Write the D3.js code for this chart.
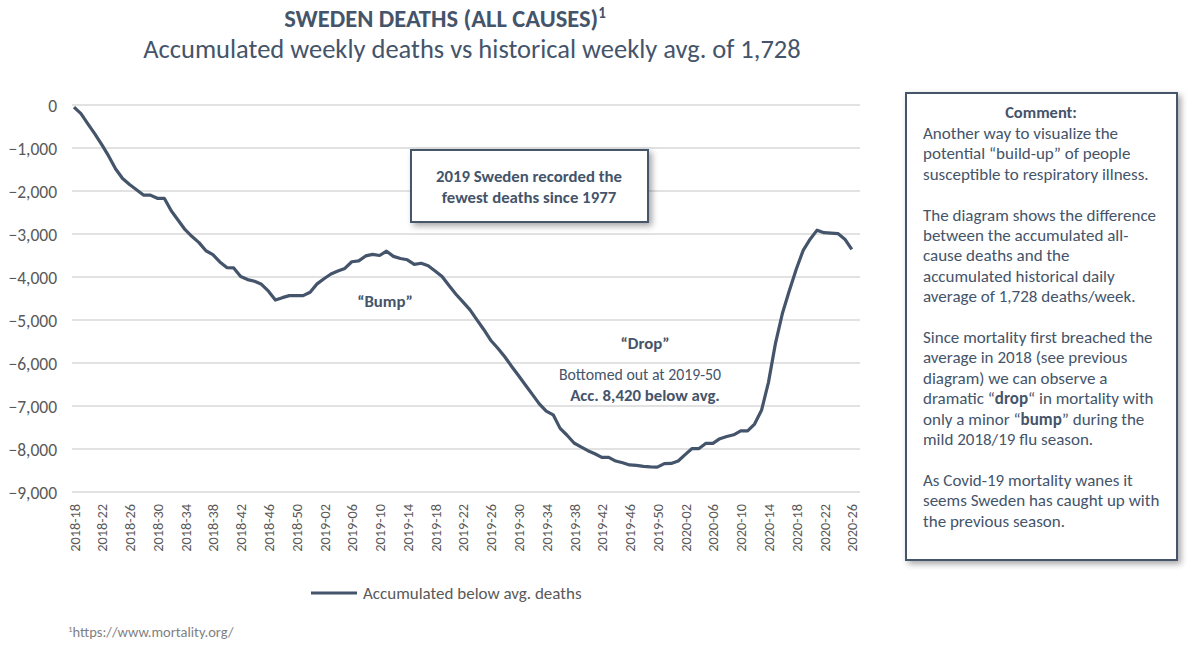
<!DOCTYPE html>
<html><head><meta charset="utf-8">
<script src="https://cdn.jsdelivr.net/npm/d3@7"></script>
<style>
body{margin:0;background:#fff;}
svg{display:block;font-family:Carlito,Calibri,Lato,"Noto Sans",sans-serif;}
</style></head>
<body><svg id="c" width="1200" height="648"></svg>
<script>
const weeks = [
"2018-18","2018-19","2018-20","2018-21","2018-22","2018-23","2018-24","2018-25","2018-26","2018-27","2018-28","2018-29","2018-30","2018-31","2018-32","2018-33","2018-34","2018-35","2018-36","2018-37","2018-38","2018-39","2018-40","2018-41","2018-42","2018-43","2018-44","2018-45","2018-46","2018-47","2018-48","2018-49","2018-50","2018-51","2018-52",
"2019-01","2019-02","2019-03","2019-04","2019-05","2019-06","2019-07","2019-08","2019-09","2019-10","2019-11","2019-12","2019-13","2019-14","2019-15","2019-16","2019-17","2019-18","2019-19","2019-20","2019-21","2019-22","2019-23","2019-24","2019-25","2019-26","2019-27","2019-28","2019-29","2019-30","2019-31","2019-32","2019-33","2019-34","2019-35","2019-36","2019-37","2019-38","2019-39","2019-40","2019-41","2019-42","2019-43","2019-44","2019-45","2019-46","2019-47","2019-48","2019-49","2019-50","2019-51","2019-52",
"2020-01","2020-02","2020-03","2020-04","2020-05","2020-06","2020-07","2020-08","2020-09","2020-10","2020-11","2020-12","2020-13","2020-14","2020-15","2020-16","2020-17","2020-18","2020-19","2020-20","2020-21","2020-22","2020-23","2020-24","2020-25","2020-26"];

const accumulated = [
-50,-200,-440,-670,-920,-1190,-1490,-1710,-1850,-1970,-2095,-2095,-2170,-2170,-2460,-2680,-2900,-3060,-3200,-3390,-3480,-3650,-3780,-3790,-3990,-4060,-4100,-4170,-4330,-4535,-4480,-4434,-4434,-4434,-4355,
-4160,-4040,-3930,-3860,-3800,-3645,-3625,-3510,-3475,-3500,-3400,-3520,-3570,-3600,-3705,-3680,-3740,-3860,-3990,-4200,-4400,-4580,-4760,-4990,-5220,-5470,-5650,-5850,-6075,-6290,-6510,-6730,-6950,-7120,-7205,-7520,-7680,-7860,-7950,-8040,-8110,-8194,-8194,-8280,-8320,-8370,-8380,-8405,-8415,-8420,-8340,-8335,
-8280,-8130,-7990,-7990,-7868,-7868,-7760,-7710,-7670,-7580,-7580,-7420,-7100,-6450,-5550,-4850,-4320,-3820,-3380,-3120,-2910,-2970,-2980,-2990,-3120,-3357];

const yTicks = [0,-1000,-2000,-3000,-4000,-5000,-6000,-7000,-8000,-9000];
const xTickLabels = weeks.filter((w,i)=>i%4===0);

const titleText = "SWEDEN DEATHS (ALL CAUSES)";
const subtitleText = "Accumulated weekly deaths vs historical weekly avg. of 1,728";
const legendLabel = "Accumulated below avg. deaths";
const footnote = "https://www.mortality.org/";
const boxLines = ["2019 Sweden recorded the","fewest deaths since 1977"];
const commentLines = [
 [["Another way to visualize the",0]],
 [["potential “build-up” of people",0]],
 [["susceptible to respiratory illness.",0]],
 [],
 [["The diagram shows the difference",0]],
 [["between the accumulated all-",0]],
 [["cause deaths and the",0]],
 [["accumulated historical daily",0]],
 [["average of 1,728 deaths/week.",0]],
 [],
 [["Since mortality first breached the",0]],
 [["average in 2018 (see previous",0]],
 [["diagram) we can observe a",0]],
 [["dramatic “",0],["drop",1],["“ in mortality with",0]],
 [["only a minor “",0],["bump",1],["” during the",0]],
 [["mild 2018/19 flu season.",0]],
 [],
 [["As Covid-19 mortality wanes it",0]],
 [["seems Sweden has caught up with",0]],
 [["the previous season.",0]]
];

const DARK = "#44546a", GRAY = "#595959";
const svg = d3.select("#c");

const defs = svg.append("defs");
const f = defs.append("filter").attr("id","sh").attr("x","-10%").attr("y","-10%").attr("width","130%").attr("height","130%");
f.append("feDropShadow").attr("dx",3).attr("dy",3).attr("stdDeviation",3).attr("flood-color","#000").attr("flood-opacity",0.35);

const x = d3.scalePoint().domain(weeks).range([74, 851.8]);
const y = d3.scaleLinear().domain([-9000, 0]).range([492, 105]);

// gridlines
svg.append("g").selectAll("line").data(yTicks).join("line")
  .attr("x1",72).attr("x2",860).attr("y1",d=>y(d)).attr("y2",d=>y(d))
  .attr("stroke","#d9d9d9").attr("stroke-width",1.3);

// y axis
const yAxis = d3.axisLeft(y).tickValues(yTicks).tickFormat(d3.format(",")).tickSize(0).tickPadding(0);
const gy = svg.append("g").attr("transform","translate(57,0)").call(yAxis);
gy.select(".domain").remove();
gy.selectAll("text").attr("fill",GRAY).style("font-size","17.5px").attr("dy","0.35em").attr("font-family","Carlito,Calibri,Lato,sans-serif");

// x axis
const xAxis = d3.axisBottom(x).tickValues(xTickLabels).tickSize(0).tickPadding(0);
const gx = svg.append("g").attr("transform","translate(0,500)").call(xAxis);
gx.select(".domain").remove();
gx.selectAll("text").attr("fill",GRAY).style("font-size","14.3px")
  .attr("font-family","Carlito,Calibri,Lato,sans-serif")
  .attr("transform","rotate(-90)").attr("text-anchor","end").attr("x",-4).attr("y",0).attr("dy","0.35em");

// line
const line = d3.line().x((d,i)=>x(weeks[i])).y(d=>y(d));
svg.append("path").datum(accumulated).attr("d",line).attr("fill","none")
  .attr("stroke",DARK).attr("stroke-width",3.2).attr("stroke-linejoin","round");

// title
const t = svg.append("text").attr("x",445).attr("y",27).attr("text-anchor","middle")
  .attr("fill",DARK).attr("font-weight","bold").style("font-size","24.5px");
t.append("tspan").text(titleText);
t.append("tspan").text("1").attr("dy",-9).style("font-size","15px");
svg.append("text").attr("x",472).attr("y",58).attr("text-anchor","middle")
  .attr("fill",DARK).style("font-size","26.5px").text(subtitleText);

// annotation box
svg.append("rect").attr("x",411).attr("y",150).attr("width",237).attr("height",72)
  .attr("fill","#fff").attr("stroke",DARK).attr("stroke-width",2).attr("filter","url(#sh)");
boxLines.forEach((l,i)=>svg.append("text").attr("x",529).attr("y",182+i*21).attr("text-anchor","middle")
  .attr("fill",DARK).attr("font-weight","bold").style("font-size","16.8px").text(l));

svg.append("text").attr("x",385).attr("y",307).attr("text-anchor","middle").attr("fill",DARK)
  .attr("font-weight","bold").style("font-size","16.8px").text("“Bump”");
svg.append("text").attr("x",645).attr("y",349).attr("text-anchor","middle").attr("fill",DARK)
  .attr("font-weight","bold").style("font-size","16.8px").text("“Drop”");
svg.append("text").attr("x",640).attr("y",380).attr("text-anchor","middle").attr("fill",DARK)
  .style("font-size","15.8px").text("Bottomed out at 2019-50");
svg.append("text").attr("x",645).attr("y",401).attr("text-anchor","middle").attr("fill",DARK)
  .attr("font-weight","bold").style("font-size","16.8px").text("Acc. 8,420 below avg.");

// legend
svg.append("line").attr("x1",311).attr("x2",357).attr("y1",593).attr("y2",593).attr("stroke",DARK).attr("stroke-width",3.2);
svg.append("text").attr("x",363).attr("y",599).attr("fill",GRAY).style("font-size","17px").text(legendLabel);

// footnote
const fn = svg.append("text").attr("x",68).attr("y",637).attr("fill","#7f7f7f").style("font-size","14.5px");
fn.append("tspan").text("1").attr("dy",-5).style("font-size","9px");
fn.append("tspan").text(footnote).attr("dy",5);

// comment box
svg.append("rect").attr("x",906).attr("y",93).attr("width",271).attr("height",467)
  .attr("fill","#fff").attr("stroke",DARK).attr("stroke-width",2).attr("filter","url(#sh)");
svg.append("text").attr("x",1041).attr("y",118).attr("text-anchor","middle").attr("fill",DARK)
  .attr("font-weight","bold").style("font-size","16.5px").text("Comment:");
commentLines.forEach((segs,i)=>{
  if(!segs.length) return;
  const tx = svg.append("text").attr("x",923).attr("y",139+i*20.4).attr("fill",DARK).style("font-size","17px");
  segs.forEach(s=>tx.append("tspan").text(s[0]).attr("font-weight",s[1]?"bold":"normal"));
});
</script></body></html>
